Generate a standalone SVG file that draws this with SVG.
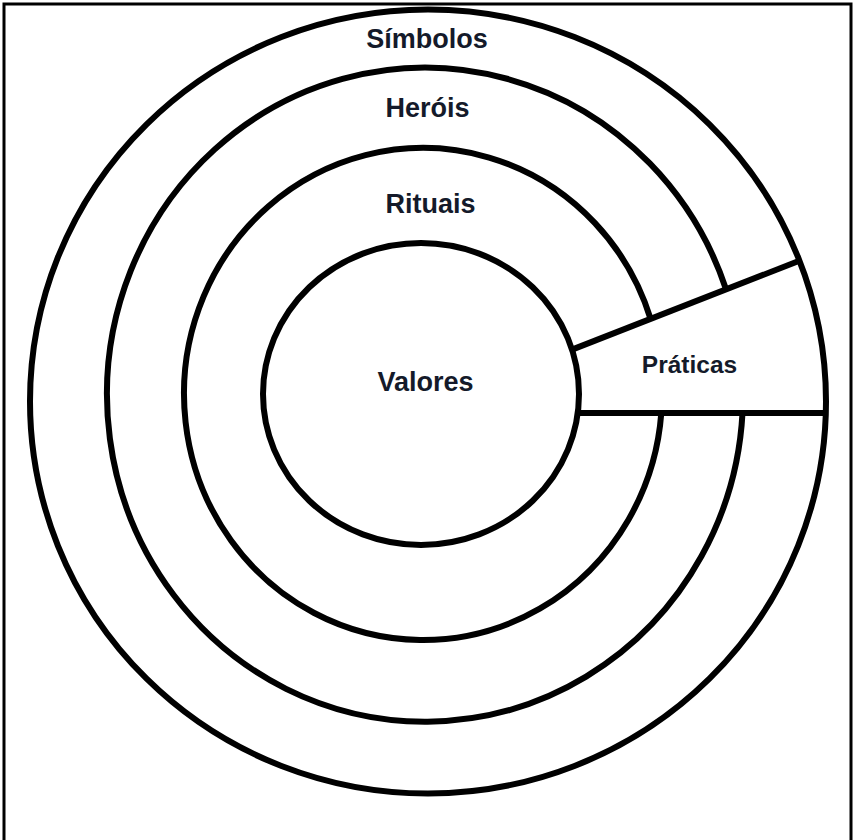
<svg xmlns="http://www.w3.org/2000/svg" width="854" height="840" viewBox="0 0 854 840">
  <style>
    .ring { fill: none; stroke: #000; stroke-width: 6; }
    .edge { fill: none; stroke: #000; stroke-width: 6; stroke-linecap: butt; }
    .lbl { font-family: "Liberation Sans", Arial, sans-serif; font-weight: bold; fill: #141a2a; text-anchor: middle; }
  </style>
  <rect x="0" y="0" width="854" height="840" fill="#fff"/>
  <rect id="frame" x="4" y="4" width="847" height="850" fill="none" stroke="#000" stroke-width="3"/>

  <g id="simbolos">
    <ellipse class="ring" cx="428" cy="401.5" rx="398" ry="392"/>
    <text class="lbl" x="427" y="48" font-size="27">Símbolos</text>
  </g>
  <g id="herois">
    <path class="ring" d="M 742.5 413 A 318 327 0 1 1 726.2 289.8"/>
    <text class="lbl" x="427.5" y="117" font-size="27">Heróis</text>
  </g>
  <g id="rituais">
    <path class="ring" d="M 661.3 413 A 239 246 0 1 1 650.8 319.5"/>
    <text class="lbl" x="430.5" y="213" font-size="27">Rituais</text>
  </g>
  <g id="valores">
    <ellipse class="ring" cx="421" cy="394" rx="158" ry="151"/>
    <text class="lbl" x="425.5" y="391" font-size="27">Valores</text>
  </g>
  <g id="praticas">
    <text class="lbl" x="689.5" y="373" font-size="24.5">Práticas</text>
  </g>
  <g id="connectors">
    <path class="edge" d="M 572 349.6 L 800 260.5"/>
    <path class="edge" d="M 577 413 L 826 413"/>
  </g>
</svg>
